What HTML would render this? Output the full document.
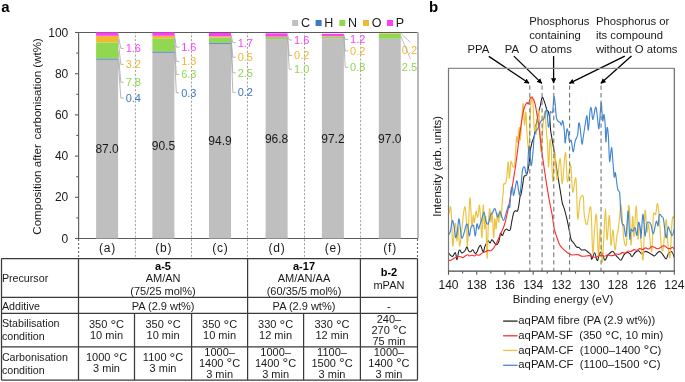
<!DOCTYPE html>
<html><head><meta charset="utf-8"><style>
html,body{margin:0;padding:0;background:#fff;width:685px;height:382px;overflow:hidden}
svg{display:block;font-family:"Liberation Sans", sans-serif;will-change:transform;filter:blur(0.3px)}
</style></head><body>
<svg width="685" height="382" viewBox="0 0 685 382">
<rect width="685" height="382" fill="#fff"/>
<text x="1.3" y="11.6" font-size="15" text-anchor="start" fill="#000" font-weight="bold" >a</text>
<rect x="292.2" y="20.0" width="6" height="6" fill="#bfbfbf"/>
<text x="300.9" y="27.3" font-size="12.5" text-anchor="start" fill="#1a1a1a" font-weight="normal" >C</text>
<rect x="315.6" y="20.0" width="6" height="6" fill="#3b78c6"/>
<text x="324.3" y="27.3" font-size="12.5" text-anchor="start" fill="#1a1a1a" font-weight="normal" >H</text>
<rect x="339.3" y="20.0" width="6" height="6" fill="#92d750"/>
<text x="348.0" y="27.3" font-size="12.5" text-anchor="start" fill="#1a1a1a" font-weight="normal" >N</text>
<rect x="363.0" y="20.0" width="6" height="6" fill="#efb933"/>
<text x="371.7" y="27.3" font-size="12.5" text-anchor="start" fill="#1a1a1a" font-weight="normal" >O</text>
<rect x="387.0" y="20.0" width="6" height="6" fill="#ff3ff7"/>
<text x="395.7" y="27.3" font-size="12.5" text-anchor="start" fill="#1a1a1a" font-weight="normal" >P</text>
<line x1="135.4" y1="33" x2="135.4" y2="258" stroke="#9a9a9a" stroke-width="0.95" stroke-dasharray="2.05,1.8" stroke-dashoffset="1.55"/>
<line x1="191.5" y1="33" x2="191.5" y2="258" stroke="#9a9a9a" stroke-width="0.95" stroke-dasharray="2.05,1.8" stroke-dashoffset="1.55"/>
<line x1="247.5" y1="33" x2="247.5" y2="258" stroke="#9a9a9a" stroke-width="0.95" stroke-dasharray="2.05,1.8" stroke-dashoffset="1.55"/>
<line x1="304.5" y1="33" x2="304.5" y2="258" stroke="#9a9a9a" stroke-width="0.95" stroke-dasharray="2.05,1.8" stroke-dashoffset="1.55"/>
<line x1="360.6" y1="33" x2="360.6" y2="258" stroke="#9a9a9a" stroke-width="0.95" stroke-dasharray="2.05,1.8" stroke-dashoffset="1.55"/>
<line x1="78.6" y1="239" x2="78.6" y2="258" stroke="#666" stroke-width="1.1" stroke-dasharray="2,2"/>
<line x1="417.5" y1="239" x2="417.5" y2="258" stroke="#666" stroke-width="1.1" stroke-dasharray="2,2"/>
<line x1="78.6" y1="32.5" x2="417.5" y2="32.5" stroke="#5a5a5a" stroke-width="1.2" />
<line x1="78.6" y1="32.0" x2="78.6" y2="238.5" stroke="#636363" stroke-width="1.2" />
<line x1="78.0" y1="238.5" x2="418" y2="238.5" stroke="#5a5a5a" stroke-width="1.2" />
<line x1="418.0" y1="32.0" x2="418.0" y2="238.5" stroke="#a8a8a8" stroke-width="1.6" />
<rect x="96.1" y="59.28" width="22.0" height="179.22" fill="#bfbfbf"/>
<rect x="96.1" y="58.46" width="22.0" height="1.1" fill="#3b78c6"/>
<rect x="96.1" y="42.39" width="22.0" height="16.07" fill="#92d750"/>
<rect x="96.1" y="35.8" width="22.0" height="6.59" fill="#efb933"/>
<rect x="96.1" y="32.5" width="22.0" height="3.3" fill="#ff3ff7"/>
<rect x="152.4" y="52.07" width="22.0" height="186.43" fill="#bfbfbf"/>
<rect x="152.4" y="51.45" width="22.0" height="1.1" fill="#3b78c6"/>
<rect x="152.4" y="38.47" width="22.0" height="12.98" fill="#92d750"/>
<rect x="152.4" y="35.8" width="22.0" height="2.68" fill="#efb933"/>
<rect x="152.4" y="32.5" width="22.0" height="3.3" fill="#ff3ff7"/>
<rect x="209.0" y="43.01" width="22.0" height="195.49" fill="#bfbfbf"/>
<rect x="209.0" y="42.59" width="22.0" height="1.1" fill="#3b78c6"/>
<rect x="209.0" y="37.44" width="22.0" height="5.15" fill="#92d750"/>
<rect x="209.0" y="36.41" width="22.0" height="1.03" fill="#efb933"/>
<rect x="209.0" y="32.91" width="22.0" height="3.5" fill="#ff3ff7"/>
<rect x="265.6" y="39.09" width="22.0" height="199.41" fill="#bfbfbf"/>
<rect x="265.6" y="37.03" width="22.0" height="2.06" fill="#92d750"/>
<rect x="265.6" y="36.62" width="22.0" height="0.41" fill="#efb933"/>
<rect x="265.6" y="33.32" width="22.0" height="3.3" fill="#ff3ff7"/>
<rect x="321.9" y="38.27" width="22.0" height="200.23" fill="#bfbfbf"/>
<rect x="321.9" y="36.62" width="22.0" height="1.65" fill="#92d750"/>
<rect x="321.9" y="36.21" width="22.0" height="0.41" fill="#efb933"/>
<rect x="321.9" y="33.74" width="22.0" height="2.47" fill="#ff3ff7"/>
<rect x="378.8" y="38.68" width="22.0" height="199.82" fill="#bfbfbf"/>
<rect x="378.8" y="33.53" width="22.0" height="5.15" fill="#92d750"/>
<rect x="378.8" y="33.12" width="22.0" height="0.41" fill="#efb933"/>
<line x1="75.0" y1="238.5" x2="78.6" y2="238.5" stroke="#5a5a5a" stroke-width="1.1" />
<text x="68.3" y="242.6" font-size="12" text-anchor="end" fill="#1a1a1a" font-weight="normal" >0</text>
<line x1="76.3" y1="217.9" x2="78.6" y2="217.9" stroke="#5a5a5a" stroke-width="1.1" />
<line x1="75.0" y1="197.3" x2="78.6" y2="197.3" stroke="#5a5a5a" stroke-width="1.1" />
<text x="68.3" y="201.4" font-size="12" text-anchor="end" fill="#1a1a1a" font-weight="normal" >20</text>
<line x1="76.3" y1="176.7" x2="78.6" y2="176.7" stroke="#5a5a5a" stroke-width="1.1" />
<line x1="75.0" y1="156.1" x2="78.6" y2="156.1" stroke="#5a5a5a" stroke-width="1.1" />
<text x="68.3" y="160.2" font-size="12" text-anchor="end" fill="#1a1a1a" font-weight="normal" >40</text>
<line x1="76.3" y1="135.5" x2="78.6" y2="135.5" stroke="#5a5a5a" stroke-width="1.1" />
<line x1="75.0" y1="114.9" x2="78.6" y2="114.9" stroke="#5a5a5a" stroke-width="1.1" />
<text x="68.3" y="119.0" font-size="12" text-anchor="end" fill="#1a1a1a" font-weight="normal" >60</text>
<line x1="76.3" y1="94.30000000000001" x2="78.6" y2="94.30000000000001" stroke="#5a5a5a" stroke-width="1.1" />
<line x1="75.0" y1="73.69999999999999" x2="78.6" y2="73.69999999999999" stroke="#5a5a5a" stroke-width="1.1" />
<text x="68.3" y="77.79999999999998" font-size="12" text-anchor="end" fill="#1a1a1a" font-weight="normal" >80</text>
<line x1="76.3" y1="53.099999999999994" x2="78.6" y2="53.099999999999994" stroke="#5a5a5a" stroke-width="1.1" />
<line x1="75.0" y1="32.5" x2="78.6" y2="32.5" stroke="#5a5a5a" stroke-width="1.1" />
<text x="68.3" y="36.6" font-size="12" text-anchor="end" fill="#1a1a1a" font-weight="normal" >100</text>
<text transform="translate(40.6,136.4) rotate(-90)" font-size="11.55" text-anchor="middle" fill="#1a1a1a">Composition after <tspan dx="1.4">carbonisation (wt%)</tspan></text>
<text x="107.1" y="153.19" font-size="12" text-anchor="middle" fill="#1a1a1a" font-weight="normal" >87.0</text>
<text x="163.4" y="149.59" font-size="12" text-anchor="middle" fill="#1a1a1a" font-weight="normal" >90.5</text>
<text x="220.0" y="145.05" font-size="12" text-anchor="middle" fill="#1a1a1a" font-weight="normal" >94.9</text>
<text x="276.6" y="143.1" font-size="12" text-anchor="middle" fill="#1a1a1a" font-weight="normal" >96.8</text>
<text x="332.9" y="142.68" font-size="12" text-anchor="middle" fill="#1a1a1a" font-weight="normal" >97.2</text>
<text x="389.8" y="142.89" font-size="12" text-anchor="middle" fill="#1a1a1a" font-weight="normal" >97.0</text>
<text x="107.5" y="251.8" font-size="12" text-anchor="middle" fill="#1a1a1a" font-weight="normal" letter-spacing="0.8">(a)</text>
<text x="163.8" y="251.8" font-size="12" text-anchor="middle" fill="#1a1a1a" font-weight="normal" letter-spacing="0.8">(b)</text>
<text x="220.4" y="251.8" font-size="12" text-anchor="middle" fill="#1a1a1a" font-weight="normal" letter-spacing="0.8">(c)</text>
<text x="277.0" y="251.8" font-size="12" text-anchor="middle" fill="#1a1a1a" font-weight="normal" letter-spacing="0.8">(d)</text>
<text x="333.29999999999995" y="251.8" font-size="12" text-anchor="middle" fill="#1a1a1a" font-weight="normal" letter-spacing="0.8">(e)</text>
<text x="390.2" y="251.8" font-size="12" text-anchor="middle" fill="#1a1a1a" font-weight="normal" letter-spacing="0.8">(f)</text>
<text x="125.7" y="52.3" font-size="11" text-anchor="start" fill="#ff3ff7" font-weight="normal" >1.6</text>
<polyline points="118.1,34.1 120.8,48.4 123.8,48.4" fill="none" stroke="#a6a6a6" stroke-width="0.8"/>
<text x="125.7" y="68.3" font-size="11" text-anchor="start" fill="#efb933" font-weight="normal" >3.2</text>
<polyline points="118.1,39.1 120.8,64.4 123.8,64.4" fill="none" stroke="#a6a6a6" stroke-width="0.8"/>
<text x="125.7" y="86.1" font-size="11" text-anchor="start" fill="#92d750" font-weight="normal" >7.8</text>
<polyline points="118.1,50.4 120.8,82.2 123.8,82.2" fill="none" stroke="#a6a6a6" stroke-width="0.8"/>
<text x="125.7" y="102.0" font-size="11" text-anchor="start" fill="#3b78c6" font-weight="normal" >0.4</text>
<polyline points="118.1,58.9 120.8,98.1 123.8,98.1" fill="none" stroke="#a6a6a6" stroke-width="0.8"/>
<text x="181.20000000000002" y="51.1" font-size="11" text-anchor="start" fill="#ff3ff7" font-weight="normal" >1.6</text>
<polyline points="174.4,34.1 176.3,47.2 179.3,47.2" fill="none" stroke="#a6a6a6" stroke-width="0.8"/>
<text x="181.20000000000002" y="65.3" font-size="11" text-anchor="start" fill="#efb933" font-weight="normal" >1.3</text>
<polyline points="174.4,37.1 176.3,61.4 179.3,61.4" fill="none" stroke="#a6a6a6" stroke-width="0.8"/>
<text x="181.20000000000002" y="78.3" font-size="11" text-anchor="start" fill="#92d750" font-weight="normal" >6.3</text>
<polyline points="174.4,45.0 176.3,74.4 179.3,74.4" fill="none" stroke="#a6a6a6" stroke-width="0.8"/>
<text x="181.20000000000002" y="96.7" font-size="11" text-anchor="start" fill="#3b78c6" font-weight="normal" >0.3</text>
<polyline points="174.4,51.8 176.3,92.8 179.3,92.8" fill="none" stroke="#a6a6a6" stroke-width="0.8"/>
<text x="237.70000000000002" y="46.5" font-size="11" text-anchor="start" fill="#ff3ff7" font-weight="normal" >1.7</text>
<polyline points="231.0,34.7 232.8,42.6 235.8,42.6" fill="none" stroke="#a6a6a6" stroke-width="0.8"/>
<text x="237.70000000000002" y="61.1" font-size="11" text-anchor="start" fill="#efb933" font-weight="normal" >0.5</text>
<polyline points="231.0,36.9 232.8,57.2 235.8,57.2" fill="none" stroke="#a6a6a6" stroke-width="0.8"/>
<text x="237.70000000000002" y="76.8" font-size="11" text-anchor="start" fill="#92d750" font-weight="normal" >2.5</text>
<polyline points="231.0,40.0 232.8,72.9 235.8,72.9" fill="none" stroke="#a6a6a6" stroke-width="0.8"/>
<text x="237.70000000000002" y="96.3" font-size="11" text-anchor="start" fill="#3b78c6" font-weight="normal" >0.2</text>
<polyline points="231.0,42.8 232.8,92.4 235.8,92.4" fill="none" stroke="#a6a6a6" stroke-width="0.8"/>
<text x="294.09999999999997" y="43.9" font-size="11" text-anchor="start" fill="#ff3ff7" font-weight="normal" >1.6</text>
<polyline points="287.6,35.0 289.2,40.0 292.2,40.0" fill="none" stroke="#a6a6a6" stroke-width="0.8"/>
<text x="294.09999999999997" y="59.4" font-size="11" text-anchor="start" fill="#efb933" font-weight="normal" >0.2</text>
<polyline points="287.6,36.8 289.2,55.5 292.2,55.5" fill="none" stroke="#a6a6a6" stroke-width="0.8"/>
<text x="294.09999999999997" y="73.1" font-size="11" text-anchor="start" fill="#92d750" font-weight="normal" >1.0</text>
<polyline points="287.6,38.1 289.2,69.2 292.2,69.2" fill="none" stroke="#a6a6a6" stroke-width="0.8"/>
<text x="350.09999999999997" y="43.3" font-size="11" text-anchor="start" fill="#ff3ff7" font-weight="normal" >1.2</text>
<polyline points="343.9,35.0 345.2,39.4 348.2,39.4" fill="none" stroke="#a6a6a6" stroke-width="0.8"/>
<text x="350.09999999999997" y="54.8" font-size="11" text-anchor="start" fill="#efb933" font-weight="normal" >0.2</text>
<polyline points="343.9,36.4 345.2,50.9 348.2,50.9" fill="none" stroke="#a6a6a6" stroke-width="0.8"/>
<text x="350.09999999999997" y="71.2" font-size="11" text-anchor="start" fill="#92d750" font-weight="normal" >0.8</text>
<polyline points="343.9,37.4 345.2,67.3 348.2,67.3" fill="none" stroke="#a6a6a6" stroke-width="0.8"/>
<text x="401.79999999999995" y="54.3" font-size="11" text-anchor="start" fill="#efb933" font-weight="normal" >0.2</text>
<line x1="400.8" y1="33.324" x2="410.4" y2="42.4" stroke="#a6a6a6" stroke-width="0.7" />
<text x="401.79999999999995" y="70.7" font-size="11" text-anchor="start" fill="#92d750" font-weight="normal" >2.5</text>
<line x1="400.8" y1="36.105000000000004" x2="410.4" y2="58.8" stroke="#a6a6a6" stroke-width="0.7" />
<line x1="1.5" y1="258.5" x2="417.5" y2="258.5" stroke="#3a3a3a" stroke-width="1.25" />
<line x1="1.5" y1="297.4" x2="417.5" y2="297.4" stroke="#3a3a3a" stroke-width="1.25" />
<line x1="1.5" y1="313.4" x2="417.5" y2="313.4" stroke="#3a3a3a" stroke-width="1.25" />
<line x1="1.5" y1="346.8" x2="417.5" y2="346.8" stroke="#3a3a3a" stroke-width="1.25" />
<line x1="1.5" y1="380.1" x2="417.5" y2="380.1" stroke="#3a3a3a" stroke-width="1.25" />
<line x1="1.5" y1="258.5" x2="1.5" y2="380.1" stroke="#3a3a3a" stroke-width="1.25" />
<line x1="78.5" y1="258.5" x2="78.5" y2="380.1" stroke="#3a3a3a" stroke-width="1.25" />
<line x1="417.5" y1="258.5" x2="417.5" y2="380.1" stroke="#3a3a3a" stroke-width="1.25" />
<line x1="247.6" y1="258.5" x2="247.6" y2="380.1" stroke="#3a3a3a" stroke-width="1.25" />
<line x1="360.4" y1="258.5" x2="360.4" y2="380.1" stroke="#3a3a3a" stroke-width="1.25" />
<line x1="134.5" y1="313.4" x2="134.5" y2="380.1" stroke="#3a3a3a" stroke-width="1.25" />
<line x1="191.6" y1="313.4" x2="191.6" y2="380.1" stroke="#3a3a3a" stroke-width="1.25" />
<line x1="303.6" y1="313.4" x2="303.6" y2="380.1" stroke="#3a3a3a" stroke-width="1.25" />
<text x="1.9" y="281.7" font-size="10.7" text-anchor="start" fill="#1a1a1a" font-weight="normal" >Precursor</text>
<text x="1.9" y="309.6" font-size="10.7" text-anchor="start" fill="#1a1a1a" font-weight="normal" >Additive</text>
<text x="1.9" y="327.1" font-size="10.7" text-anchor="start" fill="#1a1a1a" font-weight="normal" >Stabilisation</text>
<text x="1.9" y="339.7" font-size="10.7" text-anchor="start" fill="#1a1a1a" font-weight="normal" >condition</text>
<text x="1.9" y="361.3" font-size="10.7" text-anchor="start" fill="#1a1a1a" font-weight="normal" >Carbonisation</text>
<text x="1.9" y="373.8" font-size="10.7" text-anchor="start" fill="#1a1a1a" font-weight="normal" >condition</text>
<text x="163.05" y="269.6" font-size="11" text-anchor="middle" fill="#000" font-weight="bold" >a-5</text>
<text x="163.05" y="282.1" font-size="11" text-anchor="middle" fill="#1a1a1a" font-weight="normal" >AM/AN</text>
<text x="163.05" y="295.2" font-size="11" text-anchor="middle" fill="#1a1a1a" font-weight="normal" >(75/25 mol%)</text>
<text x="304.0" y="269.6" font-size="11" text-anchor="middle" fill="#000" font-weight="bold" >a-17</text>
<text x="304.0" y="282.1" font-size="11" text-anchor="middle" fill="#1a1a1a" font-weight="normal" >AM/AN/AA</text>
<text x="304.0" y="295.2" font-size="11" text-anchor="middle" fill="#1a1a1a" font-weight="normal" >(60/35/5 mol%)</text>
<text x="388.95" y="275.7" font-size="11" text-anchor="middle" fill="#000" font-weight="bold" >b-2</text>
<text x="388.95" y="288.6" font-size="11" text-anchor="middle" fill="#1a1a1a" font-weight="normal" >mPAN</text>
<text x="163.05" y="309.8" font-size="11" text-anchor="middle" fill="#1a1a1a" font-weight="normal" >PA (2.9 wt%)</text>
<text x="304.0" y="309.8" font-size="11" text-anchor="middle" fill="#1a1a1a" font-weight="normal" >PA (2.9 wt%)</text>
<text x="388.95" y="309.8" font-size="11" text-anchor="middle" fill="#1a1a1a" font-weight="normal" >-</text>
<text x="106.5" y="327.8" font-size="11" text-anchor="middle" fill="#1a1a1a" font-weight="normal" >350 <tspan font-size="14.3" dy="1.87">°</tspan><tspan dy="-1.87">C</tspan></text>
<text x="106.5" y="338.8" font-size="11" text-anchor="middle" fill="#1a1a1a" font-weight="normal" >10 min</text>
<text x="106.5" y="360.7" font-size="11" text-anchor="middle" fill="#1a1a1a" font-weight="normal" >1000 <tspan font-size="14.3" dy="1.87">°</tspan><tspan dy="-1.87">C</tspan></text>
<text x="106.5" y="371.6" font-size="11" text-anchor="middle" fill="#1a1a1a" font-weight="normal" >3 min</text>
<text x="163.05" y="327.8" font-size="11" text-anchor="middle" fill="#1a1a1a" font-weight="normal" >350 <tspan font-size="14.3" dy="1.87">°</tspan><tspan dy="-1.87">C</tspan></text>
<text x="163.05" y="338.8" font-size="11" text-anchor="middle" fill="#1a1a1a" font-weight="normal" >10 min</text>
<text x="163.05" y="360.7" font-size="11" text-anchor="middle" fill="#1a1a1a" font-weight="normal" >1100 <tspan font-size="14.3" dy="1.87">°</tspan><tspan dy="-1.87">C</tspan></text>
<text x="163.05" y="371.6" font-size="11" text-anchor="middle" fill="#1a1a1a" font-weight="normal" >3 min</text>
<text x="219.6" y="327.8" font-size="11" text-anchor="middle" fill="#1a1a1a" font-weight="normal" >350 <tspan font-size="14.3" dy="1.87">°</tspan><tspan dy="-1.87">C</tspan></text>
<text x="219.6" y="338.8" font-size="11" text-anchor="middle" fill="#1a1a1a" font-weight="normal" >10 min</text>
<text x="219.6" y="355.7" font-size="11" text-anchor="middle" fill="#1a1a1a" font-weight="normal" >1000–</text>
<text x="219.6" y="366.6" font-size="11" text-anchor="middle" fill="#1a1a1a" font-weight="normal" >1400 <tspan font-size="14.3" dy="1.87">°</tspan><tspan dy="-1.87">C</tspan></text>
<text x="219.6" y="377.5" font-size="11" text-anchor="middle" fill="#1a1a1a" font-weight="normal" >3 min</text>
<text x="275.6" y="327.8" font-size="11" text-anchor="middle" fill="#1a1a1a" font-weight="normal" >330 <tspan font-size="14.3" dy="1.87">°</tspan><tspan dy="-1.87">C</tspan></text>
<text x="275.6" y="338.8" font-size="11" text-anchor="middle" fill="#1a1a1a" font-weight="normal" >12 min</text>
<text x="275.6" y="355.7" font-size="11" text-anchor="middle" fill="#1a1a1a" font-weight="normal" >1000–</text>
<text x="275.6" y="366.6" font-size="11" text-anchor="middle" fill="#1a1a1a" font-weight="normal" >1400 <tspan font-size="14.3" dy="1.87">°</tspan><tspan dy="-1.87">C</tspan></text>
<text x="275.6" y="377.5" font-size="11" text-anchor="middle" fill="#1a1a1a" font-weight="normal" >3 min</text>
<text x="332.0" y="327.8" font-size="11" text-anchor="middle" fill="#1a1a1a" font-weight="normal" >330 <tspan font-size="14.3" dy="1.87">°</tspan><tspan dy="-1.87">C</tspan></text>
<text x="332.0" y="338.8" font-size="11" text-anchor="middle" fill="#1a1a1a" font-weight="normal" >12 min</text>
<text x="332.0" y="355.7" font-size="11" text-anchor="middle" fill="#1a1a1a" font-weight="normal" >1100–</text>
<text x="332.0" y="366.6" font-size="11" text-anchor="middle" fill="#1a1a1a" font-weight="normal" >1500 <tspan font-size="14.3" dy="1.87">°</tspan><tspan dy="-1.87">C</tspan></text>
<text x="332.0" y="377.5" font-size="11" text-anchor="middle" fill="#1a1a1a" font-weight="normal" >3 min</text>
<text x="388.95" y="322.6" font-size="11" text-anchor="middle" fill="#1a1a1a" font-weight="normal" >240–</text>
<text x="388.95" y="333.6" font-size="11" text-anchor="middle" fill="#1a1a1a" font-weight="normal" >270 <tspan font-size="14.3" dy="1.87">°</tspan><tspan dy="-1.87">C</tspan></text>
<text x="388.95" y="344.6" font-size="11" text-anchor="middle" fill="#1a1a1a" font-weight="normal" >75 min</text>
<text x="388.95" y="355.7" font-size="11" text-anchor="middle" fill="#1a1a1a" font-weight="normal" >1000–</text>
<text x="388.95" y="366.6" font-size="11" text-anchor="middle" fill="#1a1a1a" font-weight="normal" >1400 <tspan font-size="14.3" dy="1.87">°</tspan><tspan dy="-1.87">C</tspan></text>
<text x="388.95" y="377.5" font-size="11" text-anchor="middle" fill="#1a1a1a" font-weight="normal" >3 min</text>
<text x="429.0" y="11.8" font-size="15" text-anchor="start" fill="#000" font-weight="bold" >b</text>
<text x="529.2" y="25.4" font-size="11.3" text-anchor="start" fill="#1a1a1a" font-weight="normal" >Phosphorus</text>
<text x="529.2" y="38.95" font-size="11.3" text-anchor="start" fill="#1a1a1a" font-weight="normal" >containing</text>
<text x="529.2" y="52.5" font-size="11.3" text-anchor="start" fill="#1a1a1a" font-weight="normal" >O atoms</text>
<text x="595.9" y="25.4" font-size="11.3" text-anchor="start" fill="#1a1a1a" font-weight="normal" >Phosphorus or</text>
<text x="595.9" y="38.95" font-size="11.3" text-anchor="start" fill="#1a1a1a" font-weight="normal" >its compound</text>
<text x="595.9" y="52.5" font-size="11.3" text-anchor="start" fill="#1a1a1a" font-weight="normal" >without O atoms</text>
<text x="467.5" y="52.9" font-size="11.3" text-anchor="start" fill="#1a1a1a" font-weight="normal" >PPA</text>
<text x="504.8" y="52.9" font-size="11.3" text-anchor="start" fill="#1a1a1a" font-weight="normal" >PA</text>
<defs><marker id="ah" viewBox="0 0 10 10" refX="9" refY="5" markerWidth="5.2" markerHeight="5.2" orient="auto-start-reverse" markerUnits="userSpaceOnUse"><path d="M0,0 L10,5 L0,10 z" fill="#000"/></marker></defs>
<line x1="488.8" y1="56.4" x2="529.0" y2="83.3" stroke="#000" stroke-width="1.3" marker-end="url(#ah)"/>
<line x1="513.9" y1="56.1" x2="541.8" y2="83.4" stroke="#000" stroke-width="1.3" marker-end="url(#ah)"/>
<line x1="553.6" y1="56.1" x2="553.6" y2="83.0" stroke="#000" stroke-width="1.3" marker-end="url(#ah)"/>
<line x1="624.8" y1="56.1" x2="569.3" y2="83.3" stroke="#000" stroke-width="1.3" marker-end="url(#ah)"/>
<line x1="631.5" y1="56.1" x2="600.9" y2="83.3" stroke="#000" stroke-width="1.3" marker-end="url(#ah)"/>
<clipPath id="pc"><rect x="448.5" y="68.4" width="225.79999999999995" height="202.79999999999998"/></clipPath>
<path d="M448.60,252.90 C448.87,253.25 449.50,254.43 450.20,255.00 C450.90,255.57 451.93,256.70 452.80,256.30 C453.67,255.90 454.70,252.03 455.40,252.60 C456.10,253.17 456.47,259.83 457.00,259.70 C457.53,259.57 458.12,253.42 458.60,251.80 C459.08,250.18 459.38,249.82 459.90,250.00 C460.42,250.18 461.05,252.60 461.70,252.90 C462.35,253.20 463.18,252.28 463.80,251.80 C464.42,251.32 464.88,250.83 465.40,250.00 C465.92,249.17 466.38,246.67 466.90,246.80 C467.42,246.93 467.88,249.97 468.50,250.80 C469.12,251.63 469.90,251.98 470.60,251.80 C471.30,251.62 472.08,249.62 472.70,249.70 C473.32,249.78 473.78,251.68 474.30,252.30 C474.82,252.92 475.32,253.55 475.80,253.40 C476.28,253.25 476.68,252.42 477.20,251.40 C477.72,250.38 478.33,248.28 478.90,247.30 C479.47,246.32 480.02,245.02 480.60,245.50 C481.18,245.98 481.90,249.12 482.40,250.20 C482.90,251.28 483.20,252.58 483.60,252.00 C484.00,251.42 484.32,248.17 484.80,246.70 C485.28,245.23 485.92,244.18 486.50,243.20 C487.08,242.22 487.72,240.83 488.30,240.80 C488.88,240.77 489.42,243.18 490.00,243.00 C490.58,242.82 491.22,239.97 491.80,239.70 C492.38,239.43 492.82,240.58 493.50,241.40 C494.18,242.22 495.22,244.17 495.90,244.60 C496.58,245.03 497.02,244.85 497.60,244.00 C498.18,243.15 498.92,241.30 499.40,239.50 C499.88,237.70 500.00,233.87 500.50,233.20 C501.00,232.53 501.75,235.87 502.40,235.50 C503.05,235.13 503.75,232.08 504.40,231.00 C505.05,229.92 505.65,229.12 506.30,229.00 C506.95,228.88 507.63,230.20 508.30,230.30 C508.97,230.40 509.75,230.90 510.30,229.60 C510.85,228.30 511.07,225.22 511.60,222.50 C512.13,219.78 512.85,215.27 513.50,213.30 C514.15,211.33 514.83,211.08 515.50,210.70 C516.17,210.32 516.95,211.87 517.50,211.00 C518.05,210.13 518.37,207.95 518.80,205.50 C519.23,203.05 519.73,198.17 520.10,196.30 C520.47,194.43 520.60,196.02 521.00,194.30 C521.40,192.58 522.00,188.97 522.50,186.00 C523.00,183.03 523.38,178.25 524.00,176.50 C524.62,174.75 525.58,176.37 526.20,175.50 C526.82,174.63 527.18,173.55 527.70,171.30 C528.22,169.05 528.88,165.38 529.30,162.00 C529.72,158.62 529.73,154.33 530.20,151.00 C530.67,147.67 531.43,144.50 532.10,142.00 C532.77,139.50 533.62,138.50 534.20,136.00 C534.78,133.50 535.20,129.22 535.60,127.00 C536.00,124.78 536.27,124.25 536.60,122.70 C536.93,121.15 537.23,119.58 537.60,117.70 C537.97,115.82 538.35,113.35 538.80,111.40 C539.25,109.45 539.73,108.33 540.30,106.00 C540.87,103.67 541.50,98.07 542.20,97.40 C542.90,96.73 543.92,100.57 544.50,102.00 C545.08,103.43 545.30,104.67 545.70,106.00 C546.10,107.33 546.48,109.12 546.90,110.00 C547.32,110.88 547.82,110.40 548.20,111.30 C548.58,112.20 548.90,113.70 549.20,115.40 C549.50,117.10 549.77,119.07 550.00,121.50 C550.23,123.93 550.30,127.32 550.60,130.00 C550.90,132.68 551.08,133.20 551.80,137.60 C552.52,142.00 554.03,150.82 554.90,156.40 C555.77,161.98 556.30,166.55 557.00,171.10 C557.70,175.65 558.40,179.50 559.10,183.70 C559.80,187.90 560.67,193.08 561.20,196.30 C561.73,199.52 561.75,200.82 562.30,203.00 C562.85,205.18 563.67,206.45 564.50,209.40 C565.33,212.35 566.52,217.25 567.30,220.70 C568.08,224.15 568.57,226.97 569.20,230.10 C569.83,233.23 570.32,237.30 571.10,239.50 C571.88,241.70 572.97,242.03 573.90,243.30 C574.83,244.57 575.85,246.40 576.70,247.10 C577.55,247.80 578.22,247.03 579.00,247.50 C579.78,247.97 580.37,249.50 581.40,249.90 C582.43,250.30 584.10,249.55 585.20,249.90 C586.30,250.25 587.07,251.22 588.00,252.00 C588.93,252.78 590.17,253.38 590.80,254.60 C591.43,255.82 591.17,259.62 591.80,259.30 C592.43,258.98 593.82,252.75 594.60,252.70 C595.38,252.65 595.97,257.77 596.50,259.00 C597.03,260.23 597.30,260.98 597.80,260.10 C598.30,259.22 598.83,254.97 599.50,253.70 C600.17,252.43 600.92,251.43 601.80,252.50 C602.68,253.57 603.82,259.62 604.80,260.10 C605.78,260.58 606.73,256.67 607.70,255.40 C608.67,254.13 609.73,253.17 610.60,252.50 C611.47,251.83 612.02,250.92 612.90,251.40 C613.78,251.88 615.02,254.33 615.90,255.40 C616.78,256.47 617.33,257.02 618.20,257.80 C619.07,258.58 620.13,260.58 621.10,260.10 C622.07,259.62 623.02,256.17 624.00,254.90 C624.98,253.63 626.02,252.70 627.00,252.50 C627.98,252.30 629.03,253.02 629.90,253.70 C630.77,254.38 631.33,256.80 632.20,256.60 C633.07,256.40 634.03,253.47 635.10,252.50 C636.17,251.53 637.52,250.60 638.60,250.80 C639.68,251.00 640.52,253.60 641.60,253.70 C642.68,253.80 643.93,251.60 645.10,251.40 C646.27,251.20 647.53,252.02 648.60,252.50 C649.67,252.98 650.53,253.72 651.50,254.30 C652.47,254.88 653.53,256.10 654.40,256.00 C655.27,255.90 655.82,254.47 656.70,253.70 C657.58,252.93 658.72,251.30 659.70,251.40 C660.68,251.50 661.53,253.03 662.60,254.30 C663.67,255.57 665.13,259.10 666.10,259.00 C667.07,258.90 667.43,254.88 668.40,253.70 C669.37,252.52 670.88,251.12 671.90,251.90 C672.92,252.68 674.07,257.32 674.50,258.40" fill="none" stroke="#1e1e1e" stroke-width="1.05" stroke-linejoin="round" clip-path="url(#pc)"/>
<path d="M448.50,214.00 C448.65,213.67 449.05,213.18 449.40,212.00 C449.75,210.82 450.22,205.48 450.60,206.90 C450.98,208.32 451.33,213.98 451.70,220.50 C452.07,227.02 452.33,244.58 452.80,246.00 C453.27,247.42 454.02,232.67 454.50,229.00 C454.98,225.33 455.30,222.00 455.70,224.00 C456.10,226.00 456.48,240.43 456.90,241.00 C457.32,241.57 457.75,226.57 458.20,227.40 C458.65,228.23 459.08,244.87 459.60,246.00 C460.12,247.13 460.68,239.30 461.30,234.20 C461.92,229.10 462.68,219.95 463.30,215.40 C463.92,210.85 464.48,206.05 465.00,206.90 C465.52,207.75 466.02,213.98 466.40,220.50 C466.78,227.02 466.97,244.58 467.30,246.00 C467.63,247.42 467.98,236.93 468.40,229.00 C468.82,221.07 469.37,201.23 469.80,198.40 C470.23,195.57 470.65,207.17 471.00,212.00 C471.35,216.83 471.53,226.83 471.90,227.40 C472.27,227.97 472.78,216.25 473.20,215.40 C473.62,214.55 473.92,223.00 474.40,222.30 C474.88,221.60 475.62,212.07 476.10,211.20 C476.58,210.33 476.93,216.63 477.30,217.10 C477.67,217.57 477.93,215.98 478.30,214.00 C478.67,212.02 479.10,204.12 479.50,205.20 C479.90,206.28 480.28,215.12 480.70,220.50 C481.12,225.88 481.58,240.05 482.00,237.50 C482.42,234.95 482.77,206.62 483.20,205.20 C483.63,203.78 484.17,227.02 484.60,229.00 C485.03,230.98 485.38,212.27 485.80,217.10 C486.22,221.93 486.68,256.58 487.10,258.00 C487.52,259.42 487.87,233.83 488.30,225.60 C488.73,217.37 489.27,209.17 489.70,208.60 C490.13,208.03 490.48,221.63 490.90,222.20 C491.32,222.77 491.75,209.45 492.20,212.00 C492.65,214.55 493.17,236.37 493.60,237.50 C494.03,238.63 494.38,220.22 494.80,218.80 C495.22,217.38 495.68,229.85 496.10,229.00 C496.52,228.15 496.87,214.83 497.30,213.70 C497.73,212.57 498.27,222.77 498.70,222.20 C499.13,221.63 499.48,211.15 499.90,210.30 C500.32,209.45 500.78,218.80 501.20,217.10 C501.62,215.40 502.05,204.28 502.40,200.10 C502.75,195.92 503.08,194.67 503.30,192.00 C503.52,189.33 503.38,185.47 503.70,184.10 C504.02,182.73 504.77,184.37 505.20,183.80 C505.63,183.23 505.95,182.78 506.30,180.70 C506.65,178.62 506.97,174.40 507.30,171.30 C507.63,168.20 507.97,160.98 508.30,162.10 C508.63,163.22 508.98,176.68 509.30,178.00 C509.62,179.32 509.90,172.80 510.20,170.00 C510.50,167.20 510.65,161.75 511.10,161.20 C511.55,160.65 512.30,166.23 512.90,166.70 C513.50,167.17 514.08,168.88 514.70,164.00 C515.32,159.12 516.13,141.07 516.60,137.40 C517.07,133.73 517.05,143.68 517.50,142.00 C517.95,140.32 518.85,127.62 519.30,127.30 C519.75,126.98 519.75,141.65 520.20,140.10 C520.65,138.55 521.52,124.05 522.00,118.00 C522.48,111.95 522.68,102.63 523.10,103.80 C523.52,104.97 524.03,123.63 524.50,125.00 C524.97,126.37 525.48,110.67 525.90,112.00 C526.32,113.33 526.57,126.67 527.00,133.00 C527.43,139.33 528.10,148.20 528.50,150.00 C528.90,151.80 529.07,150.47 529.40,143.80 C529.73,137.13 530.13,117.47 530.50,110.00 C530.87,102.53 531.25,101.07 531.60,99.00 C531.95,96.93 532.28,94.93 532.60,97.60 C532.92,100.27 533.20,109.43 533.50,115.00 C533.80,120.57 534.10,129.17 534.40,131.00 C534.70,132.83 535.00,125.50 535.30,126.00 C535.60,126.50 535.88,135.00 536.20,134.00 C536.52,133.00 536.77,123.98 537.20,120.00 C537.63,116.02 538.33,107.93 538.80,110.10 C539.27,112.27 539.63,126.02 540.00,133.00 C540.37,139.98 540.67,150.83 541.00,152.00 C541.33,153.17 541.63,144.83 542.00,140.00 C542.37,135.17 542.68,127.77 543.20,123.00 C543.72,118.23 544.60,110.23 545.10,111.40 C545.60,112.57 545.78,124.23 546.20,130.00 C546.62,135.77 547.20,139.85 547.60,146.00 C548.00,152.15 548.20,167.90 548.60,166.90 C549.00,165.90 549.55,142.82 550.00,140.00 C550.45,137.18 550.83,143.07 551.30,150.00 C551.77,156.93 552.20,181.22 552.80,181.60 C553.40,181.98 554.20,152.65 554.90,152.30 C555.60,151.95 556.12,178.47 557.00,179.50 C557.88,180.53 559.32,157.80 560.20,158.50 C561.08,159.20 561.43,184.73 562.30,183.70 C563.17,182.67 564.53,152.65 565.40,152.30 C566.27,151.95 566.63,179.52 567.50,181.60 C568.37,183.68 569.73,163.05 570.60,164.80 C571.47,166.55 571.82,189.82 572.70,192.10 C573.58,194.38 575.07,174.05 575.90,178.50 C576.73,182.95 577.02,215.22 577.70,218.80 C578.38,222.38 579.08,203.75 580.00,200.00 C580.92,196.25 582.48,193.80 583.20,196.30 C583.92,198.80 583.67,210.30 584.30,215.00 C584.93,219.70 585.92,225.75 587.00,224.50 C588.08,223.25 589.85,202.80 590.80,207.50 C591.75,212.20 592.08,248.95 592.70,252.70 C593.32,256.45 593.87,236.28 594.50,230.00 C595.13,223.72 595.85,210.58 596.50,215.00 C597.15,219.42 597.77,254.30 598.40,256.50 C599.03,258.70 599.67,227.28 600.30,228.20 C600.93,229.12 601.63,260.03 602.20,262.00 C602.77,263.97 603.15,248.97 603.70,240.00 C604.25,231.03 604.95,208.20 605.50,208.20 C606.05,208.20 606.35,238.82 607.00,240.00 C607.65,241.18 608.73,214.47 609.40,215.30 C610.07,216.13 610.40,242.55 611.00,245.00 C611.60,247.45 612.33,229.17 613.00,230.00 C613.67,230.83 614.33,249.17 615.00,250.00 C615.67,250.83 616.50,238.03 617.00,235.00 C617.50,231.97 617.58,234.63 618.00,231.80 C618.42,228.97 619.00,222.52 619.50,218.00 C620.00,213.48 620.50,204.03 621.00,204.70 C621.50,205.37 622.00,216.12 622.50,222.00 C623.00,227.88 623.37,236.17 624.00,240.00 C624.63,243.83 625.70,248.00 626.30,245.00 C626.90,242.00 627.22,228.52 627.60,222.00 C627.98,215.48 628.27,207.57 628.60,205.90 C628.93,204.23 629.20,205.48 629.60,212.00 C630.00,218.52 630.48,244.25 631.00,245.00 C631.52,245.75 632.20,217.90 632.70,216.50 C633.20,215.10 633.40,238.37 634.00,236.60 C634.60,234.83 635.63,205.52 636.30,205.90 C636.97,206.28 637.47,235.88 638.00,238.90 C638.53,241.92 638.92,222.48 639.50,224.00 C640.08,225.52 640.88,242.30 641.50,248.00 C642.12,253.70 642.60,264.43 643.20,258.20 C643.80,251.97 644.48,215.00 645.10,210.60 C645.72,206.20 646.33,229.57 646.90,231.80 C647.47,234.03 647.90,221.80 648.50,224.00 C649.10,226.20 649.92,240.67 650.50,245.00 C651.08,249.33 651.52,254.95 652.00,250.00 C652.48,245.05 652.78,221.27 653.40,215.30 C654.02,209.33 655.02,216.17 655.70,214.20 C656.38,212.23 656.90,202.92 657.50,203.50 C658.10,204.08 658.68,210.78 659.30,217.70 C659.92,224.62 660.58,239.62 661.20,245.00 C661.82,250.38 662.40,252.17 663.00,250.00 C663.60,247.83 664.23,237.00 664.80,232.00 C665.37,227.00 665.87,217.83 666.40,220.00 C666.93,222.17 667.40,238.88 668.00,245.00 C668.60,251.12 669.30,260.87 670.00,256.70 C670.70,252.53 671.53,226.50 672.20,220.00 C672.87,213.50 673.50,219.27 674.00,217.70 C674.50,216.13 675.00,211.78 675.20,210.60" fill="none" stroke="#ebc33d" stroke-width="1.15" stroke-linejoin="round" clip-path="url(#pc)"/>
<path d="M448.60,259.70 C448.87,259.87 449.50,260.83 450.20,260.70 C450.90,260.57 451.75,259.47 452.80,258.90 C453.85,258.33 455.37,257.70 456.50,257.30 C457.63,256.90 458.55,256.45 459.60,256.50 C460.65,256.55 461.93,257.63 462.80,257.60 C463.67,257.57 464.02,256.78 464.80,256.30 C465.58,255.82 466.70,254.75 467.50,254.70 C468.30,254.65 468.90,255.92 469.60,256.00 C470.30,256.08 470.92,255.20 471.70,255.20 C472.48,255.20 473.50,256.10 474.30,256.00 C475.10,255.90 475.72,254.72 476.50,254.60 C477.28,254.48 478.17,255.47 479.00,255.30 C479.83,255.13 480.72,254.12 481.50,253.60 C482.28,253.08 482.95,252.53 483.70,252.20 C484.45,251.87 485.28,251.90 486.00,251.60 C486.72,251.30 487.25,250.53 488.00,250.40 C488.75,250.27 489.73,250.97 490.50,250.80 C491.27,250.63 491.92,250.12 492.60,249.40 C493.28,248.68 493.78,247.90 494.60,246.50 C495.42,245.10 496.52,243.05 497.50,241.00 C498.48,238.95 499.35,236.87 500.50,234.20 C501.65,231.53 503.32,228.27 504.40,225.00 C505.48,221.73 506.13,218.52 507.00,214.60 C507.87,210.68 508.85,205.40 509.60,201.50 C510.35,197.60 510.83,195.02 511.50,191.20 C512.17,187.38 512.90,182.97 513.60,178.60 C514.30,174.23 514.83,171.32 515.70,165.00 C516.57,158.68 518.00,146.70 518.80,140.70 C519.60,134.70 519.90,133.12 520.50,129.00 C521.10,124.88 521.78,119.50 522.40,116.00 C523.02,112.50 523.65,109.90 524.20,108.00 C524.75,106.10 525.23,105.50 525.70,104.60 C526.17,103.70 526.57,102.70 527.00,102.60 C527.43,102.50 527.75,104.73 528.30,104.00 C528.85,103.27 529.80,99.32 530.30,98.20 C530.80,97.08 530.95,97.35 531.30,97.30 C531.65,97.25 532.00,97.48 532.40,97.90 C532.80,98.32 533.22,98.63 533.70,99.80 C534.18,100.97 534.77,102.53 535.30,104.90 C535.83,107.27 536.40,111.15 536.90,114.00 C537.40,116.85 537.88,119.33 538.30,122.00 C538.72,124.67 538.98,126.50 539.40,130.00 C539.82,133.50 540.13,137.55 540.80,143.00 C541.47,148.45 542.45,155.92 543.40,162.70 C544.35,169.48 545.45,177.05 546.50,183.70 C547.55,190.35 548.75,197.37 549.70,202.60 C550.65,207.83 551.47,210.83 552.20,215.10 C552.93,219.37 553.30,224.43 554.10,228.20 C554.90,231.97 556.05,234.88 557.00,237.70 C557.95,240.52 558.72,243.17 559.80,245.10 C560.88,247.03 562.10,247.95 563.50,249.30 C564.90,250.65 566.78,252.25 568.20,253.20 C569.62,254.15 570.42,254.77 572.00,255.00 C573.58,255.23 575.97,254.38 577.70,254.60 C579.43,254.82 580.52,256.13 582.40,256.30 C584.28,256.47 587.23,255.52 589.00,255.60 C590.77,255.68 591.83,256.53 593.00,256.80 C594.17,257.07 595.00,257.37 596.00,257.20 C597.00,257.03 598.03,256.10 599.00,255.80 C599.97,255.50 600.88,255.32 601.80,255.40 C602.72,255.48 603.52,256.38 604.50,256.30 C605.48,256.22 606.70,254.98 607.70,254.90 C608.70,254.82 609.53,255.72 610.50,255.80 C611.47,255.88 612.50,255.70 613.50,255.40 C614.50,255.10 615.52,254.18 616.50,254.00 C617.48,253.82 618.43,254.53 619.40,254.30 C620.37,254.07 621.33,252.80 622.30,252.60 C623.27,252.40 624.25,253.37 625.20,253.10 C626.15,252.83 627.03,251.28 628.00,251.00 C628.97,250.72 630.00,251.63 631.00,251.40 C632.00,251.17 633.02,249.80 634.00,249.60 C634.98,249.40 635.93,250.37 636.90,250.20 C637.87,250.03 638.83,248.70 639.80,248.60 C640.77,248.50 641.73,249.72 642.70,249.60 C643.67,249.48 644.62,248.00 645.60,247.90 C646.58,247.80 647.62,249.22 648.60,249.00 C649.58,248.78 650.53,246.88 651.50,246.60 C652.47,246.32 653.43,246.93 654.40,247.30 C655.37,247.67 656.32,248.72 657.30,248.80 C658.28,248.88 659.42,248.28 660.30,247.80 C661.18,247.32 661.83,246.18 662.60,245.90 C663.37,245.62 664.03,245.70 664.90,246.10 C665.77,246.50 666.82,247.92 667.80,248.30 C668.78,248.68 670.02,248.58 670.80,248.40 C671.58,248.22 671.88,247.00 672.50,247.20 C673.12,247.40 674.17,249.20 674.50,249.60" fill="none" stroke="#ff2a2a" stroke-width="1.1" stroke-linejoin="round" clip-path="url(#pc)"/>
<path d="M448.50,235.00 C448.83,234.33 449.87,233.40 450.50,231.00 C451.13,228.60 451.72,221.43 452.30,220.60 C452.88,219.77 453.43,223.17 454.00,226.00 C454.57,228.83 455.12,236.93 455.70,237.60 C456.28,238.27 456.93,233.10 457.50,230.00 C458.07,226.90 458.42,217.73 459.10,219.00 C459.78,220.27 460.75,235.35 461.60,237.60 C462.45,239.85 463.48,234.48 464.20,232.50 C464.92,230.52 465.33,226.98 465.90,225.70 C466.47,224.42 467.03,223.08 467.60,224.80 C468.17,226.52 468.73,235.57 469.30,236.00 C469.87,236.43 470.28,229.12 471.00,227.40 C471.72,225.68 472.88,224.27 473.60,225.70 C474.32,227.13 474.73,236.28 475.30,236.00 C475.87,235.72 476.47,225.17 477.00,224.00 C477.53,222.83 478.02,228.83 478.50,229.00 C478.98,229.17 479.42,226.42 479.90,225.00 C480.38,223.58 480.72,222.67 481.40,220.50 C482.08,218.33 483.28,212.00 484.00,212.00 C484.72,212.00 485.00,218.50 485.70,220.50 C486.40,222.50 487.40,224.92 488.20,224.00 C489.00,223.08 489.78,216.83 490.50,215.00 C491.22,213.17 491.75,214.07 492.50,213.00 C493.25,211.93 494.15,207.92 495.00,208.60 C495.85,209.28 496.75,216.53 497.60,217.10 C498.45,217.67 499.12,211.43 500.10,212.00 C501.08,212.57 502.37,220.78 503.50,220.50 C504.63,220.22 506.05,212.85 506.90,210.30 C507.75,207.75 508.12,205.75 508.60,205.20 C509.08,204.65 509.40,209.53 509.80,207.00 C510.20,204.47 510.53,193.25 511.00,190.00 C511.47,186.75 512.17,186.60 512.60,187.50 C513.03,188.40 513.00,196.18 513.60,195.40 C514.20,194.62 515.58,185.07 516.20,182.80 C516.82,180.53 516.77,179.77 517.30,181.80 C517.83,183.83 518.78,194.30 519.40,195.00 C520.02,195.70 520.48,190.13 521.00,186.00 C521.52,181.87 521.90,173.35 522.50,170.20 C523.10,167.05 523.98,166.40 524.60,167.10 C525.22,167.80 525.68,174.42 526.20,174.40 C526.72,174.38 527.32,170.88 527.70,167.00 C528.08,163.12 528.22,154.43 528.50,151.10 C528.78,147.77 528.98,144.68 529.40,147.00 C529.82,149.32 530.53,162.83 531.00,165.00 C531.47,167.17 531.80,162.92 532.20,160.00 C532.60,157.08 533.10,151.12 533.40,147.50 C533.70,143.88 533.65,140.88 534.00,138.30 C534.35,135.72 534.90,133.55 535.50,132.00 C536.10,130.45 537.05,129.92 537.60,129.00 C538.15,128.08 538.38,127.55 538.80,126.50 C539.22,125.45 539.57,123.75 540.10,122.70 C540.63,121.65 541.37,120.83 542.00,120.20 C542.63,119.57 543.27,120.47 543.90,118.90 C544.53,117.33 545.28,112.05 545.80,110.80 C546.32,109.55 546.58,108.78 547.00,111.40 C547.42,114.02 547.88,124.62 548.30,126.50 C548.72,128.38 549.18,125.02 549.50,122.70 C549.82,120.38 549.88,114.38 550.20,112.60 C550.52,110.82 550.98,112.20 551.40,112.00 C551.82,111.80 552.28,113.92 552.70,111.40 C553.12,108.88 553.48,98.17 553.90,96.90 C554.32,95.63 554.78,100.33 555.20,103.80 C555.62,107.27 555.88,114.77 556.40,117.70 C556.92,120.63 557.67,120.57 558.30,121.40 C558.93,122.23 559.67,122.07 560.20,122.70 C560.73,123.33 561.07,125.52 561.50,125.20 C561.93,124.88 562.32,119.75 562.80,120.80 C563.28,121.85 564.00,127.80 564.40,131.50 C564.80,135.20 564.78,143.35 565.20,143.00 C565.62,142.65 566.40,131.15 566.90,129.40 C567.40,127.65 567.78,130.52 568.20,132.50 C568.62,134.48 568.88,139.93 569.40,141.30 C569.92,142.67 570.67,138.92 571.30,140.70 C571.93,142.48 572.57,151.90 573.20,152.00 C573.83,152.10 574.37,144.13 575.10,141.30 C575.83,138.47 576.98,138.00 577.60,135.00 C578.22,132.00 578.38,124.52 578.80,123.30 C579.22,122.08 579.57,124.28 580.10,127.70 C580.63,131.12 581.48,142.15 582.00,143.80 C582.52,145.45 582.68,140.73 583.20,137.60 C583.72,134.47 584.47,128.63 585.10,125.00 C585.73,121.37 586.47,114.97 587.00,115.80 C587.53,116.63 587.77,131.05 588.30,130.00 C588.83,128.95 589.68,113.02 590.20,109.50 C590.72,105.98 590.95,107.23 591.40,108.90 C591.85,110.57 592.27,119.62 592.90,119.50 C593.53,119.38 594.62,109.97 595.20,108.20 C595.78,106.43 595.98,106.93 596.40,108.90 C596.82,110.87 597.27,116.77 597.70,120.00 C598.13,123.23 598.48,130.68 599.00,128.30 C599.52,125.92 600.38,109.67 600.80,105.70 C601.22,101.73 601.18,101.98 601.50,104.50 C601.82,107.02 602.28,119.13 602.70,120.80 C603.12,122.47 603.58,113.80 604.00,114.50 C604.42,115.20 604.88,120.42 605.20,125.00 C605.52,129.58 605.58,141.58 605.90,142.00 C606.22,142.42 606.68,128.45 607.10,127.50 C607.52,126.55 607.98,130.65 608.40,136.30 C608.82,141.95 609.08,159.52 609.60,161.40 C610.12,163.28 610.97,147.80 611.50,147.60 C612.03,147.40 612.35,155.33 612.80,160.20 C613.25,165.07 613.77,174.68 614.20,176.80 C614.63,178.92 614.88,171.20 615.40,172.90 C615.92,174.60 616.85,184.12 617.30,187.00 C617.75,189.88 617.70,189.15 618.10,190.20 C618.50,191.25 619.32,190.68 619.70,193.30 C620.08,195.92 620.10,201.45 620.40,205.90 C620.70,210.35 621.12,216.85 621.50,220.00 C621.88,223.15 622.30,223.90 622.70,224.80 C623.10,225.70 623.40,223.43 623.90,225.40 C624.40,227.37 625.22,236.32 625.70,236.60 C626.18,236.88 626.42,231.23 626.80,227.10 C627.18,222.97 627.70,213.77 628.00,211.80 C628.30,209.83 628.30,210.78 628.60,215.30 C628.90,219.82 629.40,236.53 629.80,238.90 C630.20,241.27 630.52,230.78 631.00,229.50 C631.48,228.22 632.02,231.50 632.70,231.20 C633.38,230.90 634.40,227.00 635.10,227.70 C635.80,228.40 636.32,236.28 636.90,235.40 C637.48,234.52 638.02,223.38 638.60,222.40 C639.18,221.42 640.00,226.95 640.40,229.50 C640.80,232.05 640.60,240.17 641.00,237.70 C641.40,235.23 642.30,217.05 642.80,214.70 C643.30,212.35 643.62,219.95 644.00,223.60 C644.38,227.25 644.62,236.60 645.10,236.60 C645.58,236.60 646.22,225.97 646.90,223.60 C647.58,221.23 648.52,222.20 649.20,222.40 C649.88,222.60 650.30,222.93 651.00,224.80 C651.70,226.67 652.52,234.20 653.40,233.60 C654.28,233.00 655.52,222.48 656.30,221.20 C657.08,219.92 657.60,226.98 658.10,225.90 C658.60,224.82 658.72,216.27 659.30,214.70 C659.88,213.13 660.92,215.80 661.60,216.50 C662.28,217.20 662.80,216.15 663.40,218.90 C664.00,221.65 664.70,229.87 665.20,233.00 C665.70,236.13 665.92,238.68 666.40,237.70 C666.88,236.72 667.52,228.27 668.10,227.10 C668.68,225.93 669.22,229.32 669.90,230.70 C670.58,232.08 671.42,235.80 672.20,235.40 C672.98,235.00 674.20,229.48 674.60,228.30" fill="none" stroke="#4286d3" stroke-width="1.15" stroke-linejoin="round" clip-path="url(#pc)"/>
<line x1="529.79" y1="85.4" x2="529.79" y2="271.2" stroke="#777" stroke-width="1.1" stroke-dasharray="4.4,3.2"/>
<line x1="542.07" y1="85.4" x2="542.07" y2="271.2" stroke="#777" stroke-width="1.1" stroke-dasharray="4.4,3.2"/>
<line x1="553.78" y1="85.4" x2="553.78" y2="271.2" stroke="#777" stroke-width="1.1" stroke-dasharray="4.4,3.2"/>
<line x1="569.59" y1="85.4" x2="569.59" y2="271.2" stroke="#777" stroke-width="1.1" stroke-dasharray="4.4,3.2"/>
<line x1="601.06" y1="85.4" x2="601.06" y2="271.2" stroke="#777" stroke-width="1.1" stroke-dasharray="4.4,3.2"/>
<line x1="448.5" y1="68.4" x2="674.3" y2="68.4" stroke="#8c8c8c" stroke-width="1.2" />
<line x1="448.5" y1="67.9" x2="448.5" y2="271.2" stroke="#787878" stroke-width="1.2" />
<line x1="674.3" y1="67.9" x2="674.3" y2="271.2" stroke="#6a6a6a" stroke-width="1.2" />
<line x1="448.0" y1="271.2" x2="674.8" y2="271.2" stroke="#484848" stroke-width="1.2" />
<line x1="674.3" y1="271.2" x2="674.3" y2="274.8" stroke="#5a5a5a" stroke-width="1.1" />
<text x="674.3" y="288.8" font-size="12" text-anchor="middle" fill="#1a1a1a" font-weight="normal" >124</text>
<line x1="660.19" y1="271.2" x2="660.19" y2="273.59999999999997" stroke="#5a5a5a" stroke-width="1.1" />
<line x1="646.07" y1="271.2" x2="646.07" y2="274.8" stroke="#5a5a5a" stroke-width="1.1" />
<text x="646.07" y="288.8" font-size="12" text-anchor="middle" fill="#1a1a1a" font-weight="normal" >126</text>
<line x1="631.96" y1="271.2" x2="631.96" y2="273.59999999999997" stroke="#5a5a5a" stroke-width="1.1" />
<line x1="617.85" y1="271.2" x2="617.85" y2="274.8" stroke="#5a5a5a" stroke-width="1.1" />
<text x="617.85" y="288.8" font-size="12" text-anchor="middle" fill="#1a1a1a" font-weight="normal" >128</text>
<line x1="603.74" y1="271.2" x2="603.74" y2="273.59999999999997" stroke="#5a5a5a" stroke-width="1.1" />
<line x1="589.62" y1="271.2" x2="589.62" y2="274.8" stroke="#5a5a5a" stroke-width="1.1" />
<text x="589.62" y="288.8" font-size="12" text-anchor="middle" fill="#1a1a1a" font-weight="normal" >130</text>
<line x1="575.51" y1="271.2" x2="575.51" y2="273.59999999999997" stroke="#5a5a5a" stroke-width="1.1" />
<line x1="561.4" y1="271.2" x2="561.4" y2="274.8" stroke="#5a5a5a" stroke-width="1.1" />
<text x="561.4" y="288.8" font-size="12" text-anchor="middle" fill="#1a1a1a" font-weight="normal" >132</text>
<line x1="547.29" y1="271.2" x2="547.29" y2="273.59999999999997" stroke="#5a5a5a" stroke-width="1.1" />
<line x1="533.17" y1="271.2" x2="533.17" y2="274.8" stroke="#5a5a5a" stroke-width="1.1" />
<text x="533.17" y="288.8" font-size="12" text-anchor="middle" fill="#1a1a1a" font-weight="normal" >134</text>
<line x1="519.06" y1="271.2" x2="519.06" y2="273.59999999999997" stroke="#5a5a5a" stroke-width="1.1" />
<line x1="504.95" y1="271.2" x2="504.95" y2="274.8" stroke="#5a5a5a" stroke-width="1.1" />
<text x="504.95" y="288.8" font-size="12" text-anchor="middle" fill="#1a1a1a" font-weight="normal" >136</text>
<line x1="490.84" y1="271.2" x2="490.84" y2="273.59999999999997" stroke="#5a5a5a" stroke-width="1.1" />
<line x1="476.73" y1="271.2" x2="476.73" y2="274.8" stroke="#5a5a5a" stroke-width="1.1" />
<text x="476.73" y="288.8" font-size="12" text-anchor="middle" fill="#1a1a1a" font-weight="normal" >138</text>
<line x1="462.61" y1="271.2" x2="462.61" y2="273.59999999999997" stroke="#5a5a5a" stroke-width="1.1" />
<line x1="448.5" y1="271.2" x2="448.5" y2="274.8" stroke="#5a5a5a" stroke-width="1.1" />
<text x="448.5" y="288.8" font-size="12" text-anchor="middle" fill="#1a1a1a" font-weight="normal" >140</text>
<text x="563.0" y="302.6" font-size="11.4" text-anchor="middle" fill="#1a1a1a" font-weight="normal" >Binding energy (eV)</text>
<text transform="translate(441.2,166.3) rotate(-90)" font-size="11.5" text-anchor="middle" fill="#1a1a1a">Intensity (arb. units)</text>
<line x1="503.1" y1="321.1" x2="517.6" y2="321.1" stroke="#262626" stroke-width="1.3" />
<text x="518.3" y="324.2" font-size="11.3" letter-spacing="0.02" fill="#1a1a1a" xml:space="preserve">aqPAM fibre (PA (2.9 wt%))</text>
<line x1="503.1" y1="335.8" x2="517.6" y2="335.8" stroke="#ff2b2b" stroke-width="1.3" />
<text x="518.3" y="338.9" font-size="11.3" letter-spacing="0.02" fill="#1a1a1a" xml:space="preserve">aqPAM-SF  (350 <tspan font-size="14.7" dy="1.9">°</tspan><tspan dy="-1.9">C, 10 min)</tspan></text>
<line x1="503.1" y1="350.4" x2="517.6" y2="350.4" stroke="#ebc53f" stroke-width="1.3" />
<text x="518.3" y="353.5" font-size="11.3" letter-spacing="0.02" fill="#1a1a1a" xml:space="preserve">aqPAM-CF  (1000–1400 <tspan font-size="14.7" dy="1.9">°</tspan><tspan dy="-1.9">C)</tspan></text>
<line x1="503.1" y1="365.3" x2="517.6" y2="365.3" stroke="#4a8ad6" stroke-width="1.3" />
<text x="518.3" y="368.4" font-size="11.3" letter-spacing="0.02" fill="#1a1a1a" xml:space="preserve">aqPAM-CF  (1100–1500 <tspan font-size="14.7" dy="1.9">°</tspan><tspan dy="-1.9">C)</tspan></text>
</svg>
</body></html>
